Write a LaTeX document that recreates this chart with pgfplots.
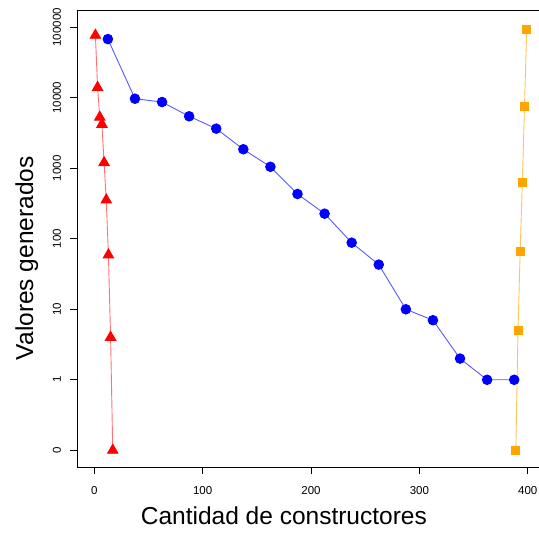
\documentclass[border=0pt]{standalone}
\usepackage{pgfplots}
\pgfplotsset{compat=1.18}
\usepackage{fontspec}
\setmainfont{Liberation Sans}
\definecolor{rorange}{RGB}{255,165,0}
\begin{document}
\begin{tikzpicture}
\useasboundingbox (-77pt,-66pt) rectangle (462pt,467pt);
\begin{axis}[
  scale only axis, width=467pt, height=457pt,
  xmin=-16, xmax=415, ymin=-1.237, ymax=5.245,
  axis line style={line width=0.8pt},
  tick align=outside, major tick length=7pt, xtick pos=left, ytick pos=left,
  tick style={black, line width=0.8pt},
  xtick={0,100,200,300,400},
  ytick={-1,0,1,2,3,4,5},
  yticklabels={0,1,10,100,1000,10000,100000},
  /pgf/number format/assume math mode=true,
  ticklabel style={font=\fontsize{11.5}{13}\selectfont},
  yticklabel style={rotate=90, anchor=base, inner sep=0pt},
  xticklabel style={anchor=base, inner sep=0pt},
  yticklabel shift=9pt,
  xticklabel shift=21pt,
  xlabel={Cantidad de constructores},
  ylabel={Valores generados},
  label style={font=\fontsize{24.5}{28}\selectfont},
  xlabel style={at={(axis description cs:0.443,-0.1269)}, anchor=base, inner sep=0pt},
  ylabel style={at={(axis description cs:-0.0942,0.457)}, rotate=0, anchor=base, inner sep=0pt},
  y filter/.expression={log10(max(y,0.1))},
]
\addplot[color=red!55!white, line width=0.9pt, mark=triangle*, mark size=6pt,
  mark options={solid, fill=red, draw=red}] table {
x y
1 77000
3 14000
5 5300
7 4200
9 1200
11 355
13 59
15 4
17 0
};
\addplot[color=blue!65!white, line width=0.9pt, mark=*, mark size=4.8pt,
  mark options={solid, fill=blue, draw=blue}] table {
x y
12.5 68000
37.5 9700
62.5 8700
87.5 5460
112.5 3650
137.5 1860
162.5 1050
187.5 432
212.5 227
237.5 88
262.5 43
287.5 10
312.5 7
337.5 2
362.5 1
387.5 1
};
\addplot[color=rorange!65!white, line width=0.9pt, mark=square*, mark size=4pt,
  mark options={solid, fill=rorange, draw=rorange}] table {
x y
389 0
391 5
393 66
395 630
397 7570
399 92000
};
\end{axis}
\end{tikzpicture}
\end{document}
